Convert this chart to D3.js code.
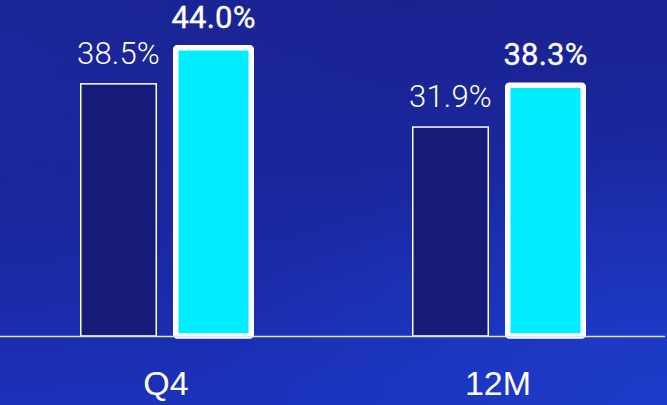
<!DOCTYPE html>
<html>
<head>
<meta charset="utf-8">
<script src="https://cdn.jsdelivr.net/npm/d3@7"></script>
<style>
  html, body { margin: 0; padding: 0; background: #1a2599; }
  svg { display: block; }
</style>
</head>
<body>
<script>
// Categories, series and values
const categories = ["Q4", "12M"];
const seriesNames = ["prior", "current"];
const priorValues = [38.5, 31.9];
const currentValues = [44.0, 38.3];
const valueLabels = [["38.5%", "44.0%"], ["31.9%", "38.3%"]];

const W = 667, H = 405;
const baseY = 336;

const svg = d3.select("body").append("svg")
  .attr("width", W).attr("height", H);

// Background gradients
const defs = svg.append("defs");
const lg = defs.append("linearGradient").attr("id", "bg")
  .attr("x1", 0).attr("y1", 0).attr("x2", 0.15).attr("y2", 1);
lg.append("stop").attr("offset", "0%").attr("stop-color", "#19218e");
lg.append("stop").attr("offset", "55%").attr("stop-color", "#1a279e");
lg.append("stop").attr("offset", "100%").attr("stop-color", "#1a31b9");
const rg = defs.append("radialGradient").attr("id", "glow")
  .attr("cx", 1).attr("cy", 1).attr("r", 0.7);
rg.append("stop").attr("offset", "0%").attr("stop-color", "#1f40d0").attr("stop-opacity", 0.7);
rg.append("stop").attr("offset", "100%").attr("stop-color", "#1f40d0").attr("stop-opacity", 0);
const rg2 = defs.append("radialGradient").attr("id", "glow2")
  .attr("cx", 0).attr("cy", 0.1).attr("r", 0.6);
rg2.append("stop").attr("offset", "0%").attr("stop-color", "#1c2aa0").attr("stop-opacity", 0.6);
rg2.append("stop").attr("offset", "100%").attr("stop-color", "#1c2aa0").attr("stop-opacity", 0);

svg.append("rect").attr("width", W).attr("height", H).attr("fill", "url(#bg)");
svg.append("rect").attr("width", W).attr("height", H).attr("fill", "url(#glow)");
svg.append("rect").attr("width", W).attr("height", H).attr("fill", "url(#glow2)");

// Scales
const x0 = d3.scaleBand().domain(categories).range([0, 664]).padding(0);
const x1 = d3.scaleBand().domain(seriesNames).range([0, x0.bandwidth()])
  .paddingInner(0.205).paddingOuter(0.85);
const y = d3.scaleLinear().domain([0, 51.3]).range([baseY, 0]);

const rows = categories.map((c, i) => ({
  cat: c,
  bars: [
    { s: "prior", v: priorValues[i], label: valueLabels[i][0] },
    { s: "current", v: currentValues[i], label: valueLabels[i][1] }
  ]
}));

const groups = svg.selectAll("g.grp").data(rows).join("g")
  .attr("class", "grp")
  .attr("transform", d => `translate(${x0(d.cat)},0)`);

// Prior-period bars: dark fill, thin white outline
groups.selectAll("rect.prior").data(d => d.bars.filter(b => b.s === "prior")).join("rect")
  .attr("class", "prior")
  .attr("x", d => x1(d.s))
  .attr("y", d => y(d.v))
  .attr("width", x1.bandwidth())
  .attr("height", d => baseY - y(d.v))
  .attr("fill", "#161a78")
  .attr("stroke", "#ffffff")
  .attr("stroke-width", 1.5);

// Baseline
svg.append("line")
  .attr("x1", 0).attr("x2", 665)
  .attr("y1", baseY + 0.5).attr("y2", baseY + 0.5)
  .attr("stroke", "#e4e4ee").attr("stroke-width", 1.6);

// Current-period bars: cyan fill, heavy white outline
groups.selectAll("rect.current").data(d => d.bars.filter(b => b.s === "current")).join("rect")
  .attr("class", "current")
  .attr("x", d => x1(d.s))
  .attr("y", d => y(d.v))
  .attr("width", x1.bandwidth())
  .attr("height", d => baseY - y(d.v))
  .attr("fill", "#00eeff")
  .attr("stroke", "#ffffff")
  .attr("stroke-width", 5.5)
  .attr("rx", 1.5);

// Value labels
groups.selectAll("text.val").data(d => d.bars).join("text")
  .attr("class", "val")
  .attr("x", d => x1(d.s) + x1.bandwidth() / 2)
  .attr("y", d => y(d.v) - 20)
  .attr("text-anchor", "middle")
  .attr("fill", "#ffffff")
  .attr("stroke", d => d.s === "current" ? "#ffffff" : "none")
  .attr("stroke-width", 0.35)
  .attr("font-family", "Roboto, sans-serif")
  .attr("font-size", 31)
  .attr("font-weight", d => d.s === "current" ? 400 : 300)
  .attr("letter-spacing", 0.2)
  .text(d => d.label);

// Category axis labels
groups.append("text")
  .attr("x", x0.bandwidth() / 2)
  .attr("y", 395)
  .attr("text-anchor", "middle")
  .attr("fill", "#ffffff")
  .attr("font-family", "'Liberation Sans', Arial, sans-serif")
  .attr("font-size", 34)
  .text(d => d.cat);
</script>
</body>
</html>
